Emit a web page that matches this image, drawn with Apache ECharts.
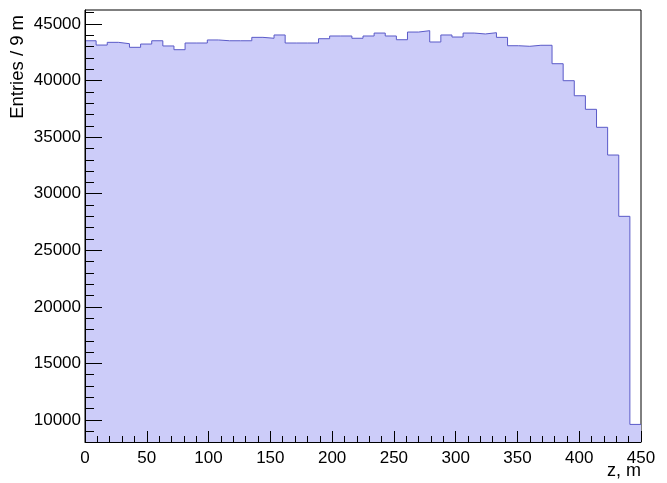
<!DOCTYPE html>
<html>
<head>
<meta charset="utf-8">
<script src="https://cdn.jsdelivr.net/npm/echarts@6/dist/echarts.min.js"></script>
<style>
  html, body { margin: 0; padding: 0; background: #fff; }
  #chart { width: 667px; height: 483px; }
</style>
</head>
<body>
<div id="chart"></div>
<script>
// histogram: 50 bins of 9 m from z = 0 to 450
const binWidth = 9
const counts = [
    43520, 43140, 43380, 43260, 42940, 43230, 43520, 43060, 42730, 43320,
    43320, 43590, 43520, 43520, 43520, 43820, 43740, 44030, 43320, 43320,
    43320, 43700, 43940, 43940, 43740, 43940, 44200, 43940, 43610, 44290,
    44410, 43410, 44030, 43850, 44200, 44120, 44230, 43820, 43080, 43030,
    43120, 43120, 41490, 39990, 38660, 37460, 35870, 33420, 28000, 9610
]
const yMajorTicks = [10000, 15000, 20000, 25000, 30000, 35000, 40000, 45000]
const yMinorTicks = [9000, 11000, 12000, 13000, 14000, 16000, 17000, 18000, 19000,
    21000, 22000, 23000, 24000, 26000, 27000, 28000, 29000, 31000, 32000, 33000, 34000,
    36000, 37000, 38000, 39000, 41000, 42000, 43000, 44000, 46000]

const yMin = 8055
const yMax = 46238
const font = 'Liberation Sans, Arial, Helvetica, sans-serif'

// step points: low edge of each bin, plus the last upper edge
let stepData = counts.map((c, i) => [i * binWidth, c])
stepData.push([counts.length * binWidth, counts[counts.length - 1]])

const chart = echarts.init(document.getElementById('chart'))

const plain = (v) => String(v)

const option = {
    animation: false,
    backgroundColor: '#fff',
    grid: {
        left: 85,
        top: 10,
        width: 556,
        height: 432,
        show: true,
        borderColor: '#000',
        borderWidth: 1,
        backgroundColor: 'transparent'
    },
    xAxis: {
        type: 'value',
        min: 0,
        max: 450,
        interval: 50,
        z: 10,
        axisLine: { show: true, lineStyle: { color: '#000', width: 1 } },
        axisTick: { show: true, inside: true, length: 11, lineStyle: { color: '#000' } },
        minorTick: { show: true, splitNumber: 5, length: 6, lineStyle: { color: '#000' } },
        splitLine: { show: false },
        axisLabel: { fontFamily: font, fontSize: 17, color: '#000', margin: 8, formatter: plain }
    },
    yAxis: [{
        type: 'value',
        min: yMin,
        max: yMax,
        z: 10,
        axisLine: { show: true, lineStyle: { color: '#000', width: 1 } },
        axisTick: {
            show: true, inside: true, length: 17,
            customValues: yMajorTicks,
            lineStyle: { color: '#000' }
        },
        splitLine: { show: false },
        axisLabel: {
            fontFamily: font, fontSize: 17, color: '#000', margin: 4,
            customValues: yMajorTicks,
            formatter: plain
        }
    }, {
        type: 'value',
        min: yMin,
        max: yMax,
        position: 'left',
        z: 10,
        axisLine: { show: false },
        axisTick: {
            show: true, inside: true, length: 9,
            customValues: yMinorTicks,
            lineStyle: { color: '#000' }
        },
        splitLine: { show: false },
        axisLabel: { show: false }
    }],
    series: [{
        type: 'line',
        step: 'end',
        data: stepData,
        showSymbol: false,
        lineStyle: { color: '#5a5ac8', width: 1 },
        areaStyle: { color: '#ccccf9', opacity: 1, origin: 'start' },
        z: 1
    }],
    graphic: [{
        type: 'text',
        x: 641,
        y: 471,
        style: {
            text: 'z, m',
            fontFamily: font,
            fontSize: 18,
            fill: '#000',
            align: 'right',
            verticalAlign: 'middle'
        }
    }, {
        type: 'text',
        x: 18,
        y: 15,
        rotation: Math.PI / 2,
        style: {
            text: 'Entries / 9 m',
            fontFamily: font,
            fontSize: 18.5,
            fill: '#000',
            align: 'right',
            verticalAlign: 'middle'
        }
    }]
}

chart.setOption(option)
</script>
</body>
</html>
